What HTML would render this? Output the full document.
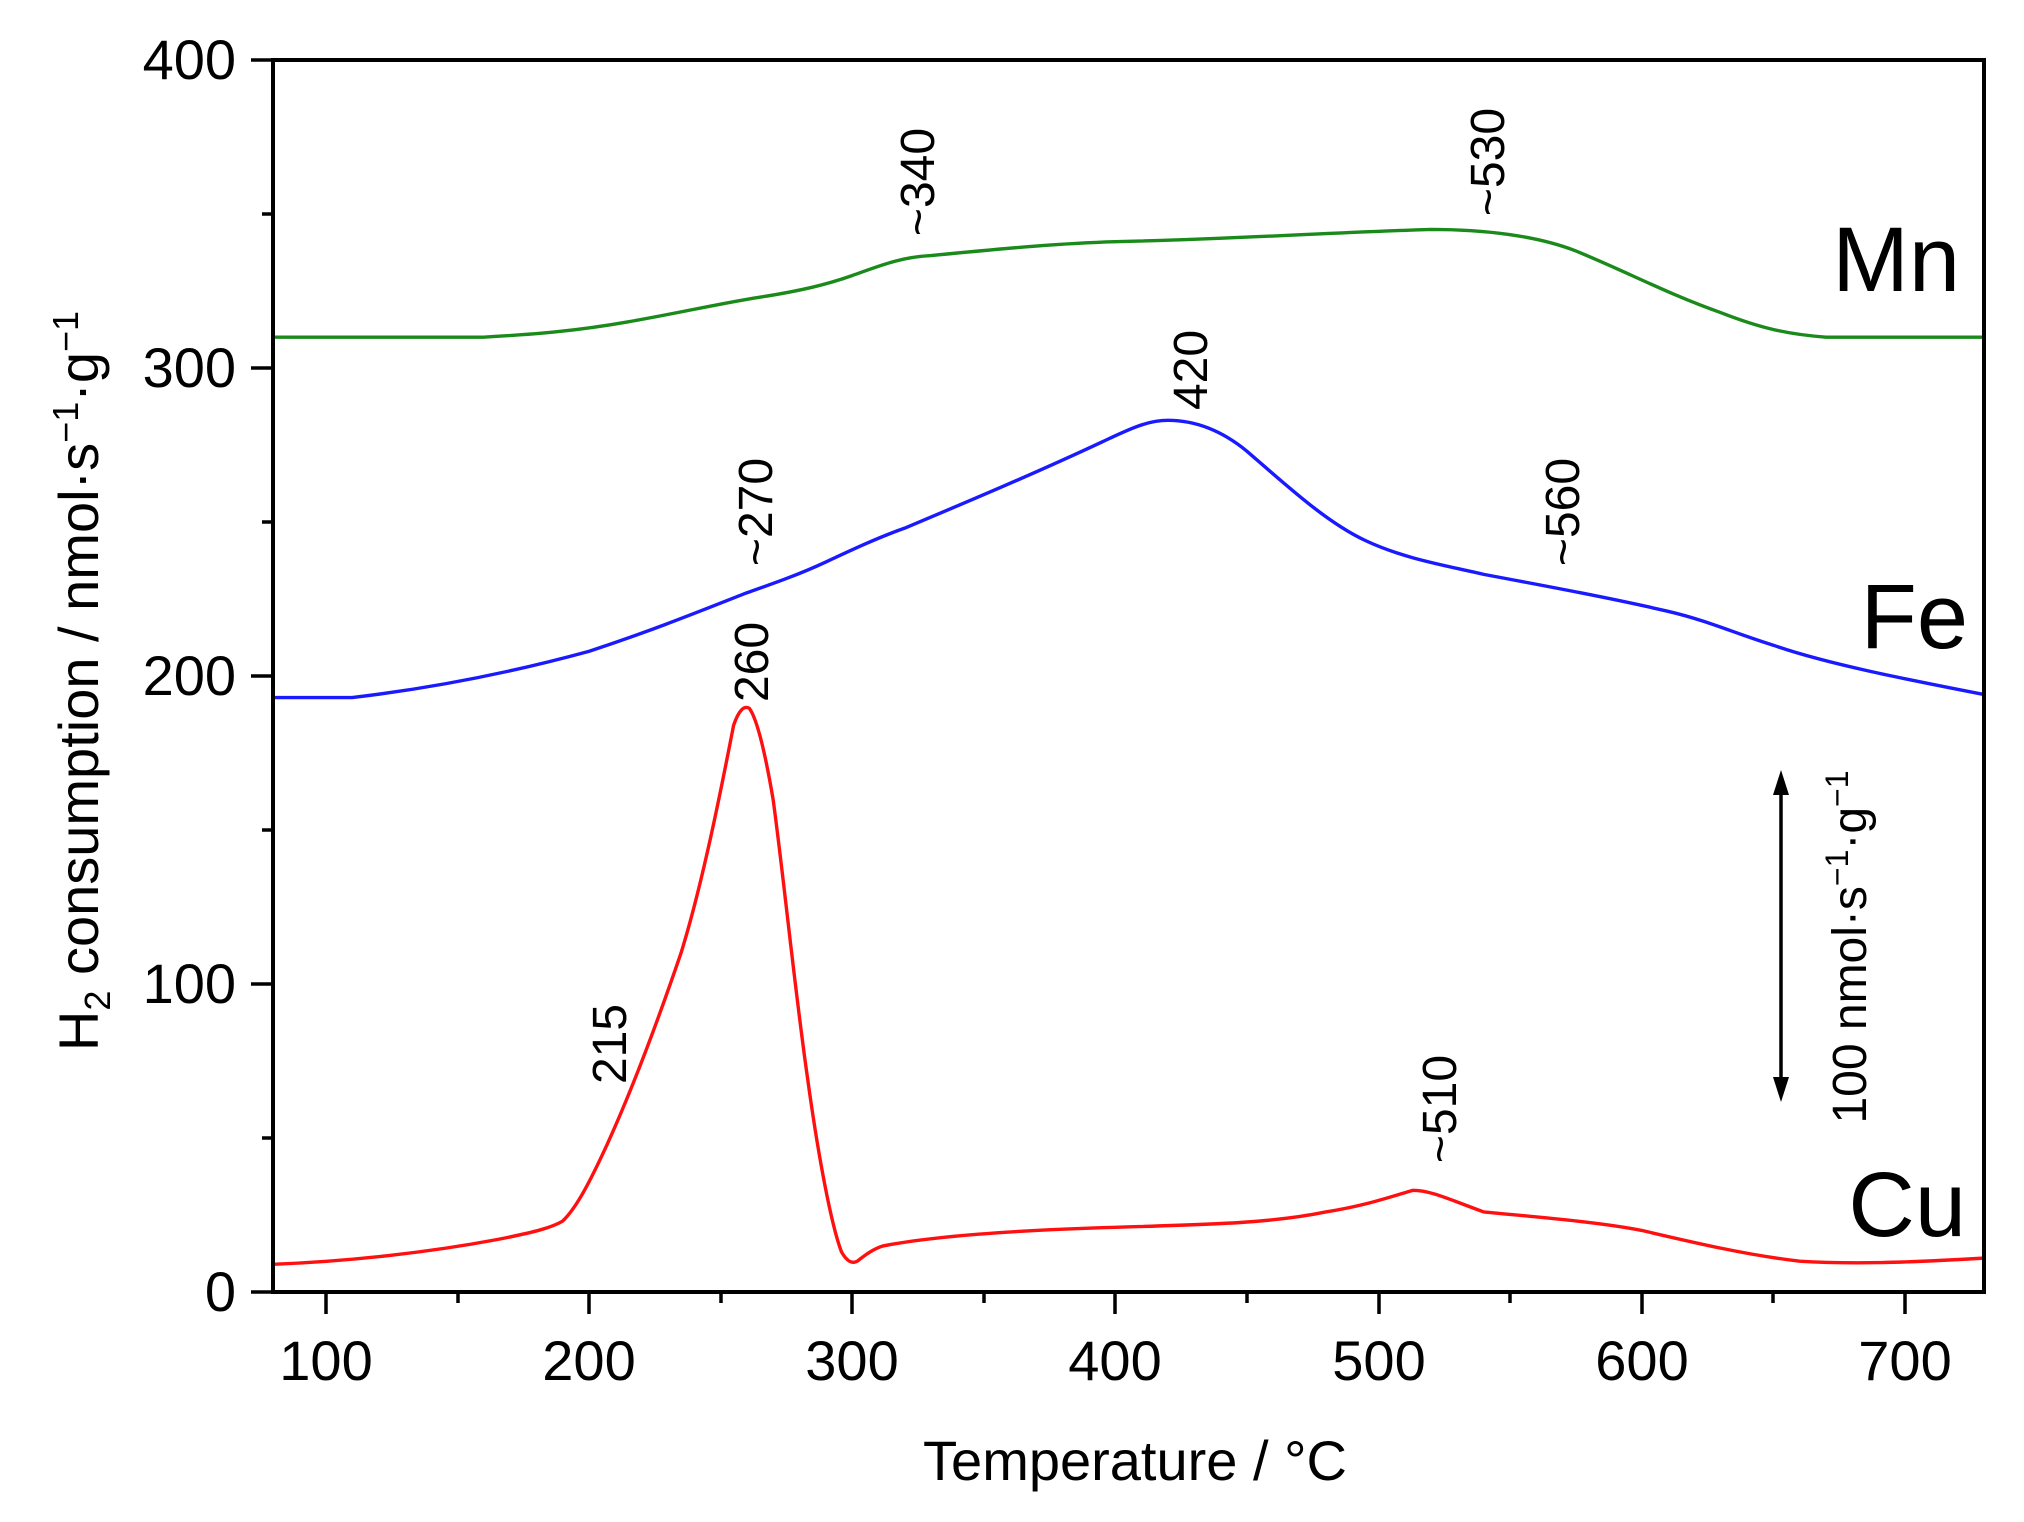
<!DOCTYPE html>
<html><head><meta charset="utf-8"><style>
html,body{margin:0;padding:0;background:#fff;}
svg text{font-family:"Liberation Sans",sans-serif;fill:#000;}
</style></head><body>
<svg width="2024" height="1517" viewBox="0 0 2024 1517" xmlns="http://www.w3.org/2000/svg">
<defs><clipPath id="c"><rect x="273" y="60" width="1711" height="1232"/></clipPath></defs>
<g clip-path="url(#c)">
<g transform="translate(62.44,1292) scale(2.632,-3.08)" fill="none" stroke-width="3.4" stroke-linejoin="round">
<path vector-effect="non-scaling-stroke" stroke="#1a8a1a" d="M80,310 L160,310 C180,311 195,312 215,315 C235,318 250,321 265,323 C280,325 290,327 300,330 C310,333 318,336 330,336.5 C360,339 380,340.5 400,341 C450,342 480,344 520,345 C540,345 560,343 575,338 C595,331 610,324 630,318 C645,313 655,311 670,310 L730,310"/>
<path vector-effect="non-scaling-stroke" stroke="#1a1aff" d="M80,193 L110,193 C140,196 170,201 200,208 C225,215 245,222 260,227 C270,230 280,233 290,237 C300,241 310,245 320,248 C345,257 370,266 395,276 C405,280 412,283 420,283 C430,283 440,280 450,273 C465,262 480,250 495,244 C510,238 525,236 540,233 C565,229 590,225 610,221 C625,218 635,214 650,210 C670,204 700,199 730,194"/>
<path vector-effect="non-scaling-stroke" stroke="#ff1010" d="M80,9 C110,10 140,13 165,17 C180,19.5 186,21 190,23 C195,27 200,35 207,48 C215,63 225,85 235,110 C243,132 250,162 255,184 C257,189 259,190.5 261,189.5 C264,186 267,175 270,160 C274,135 278,100 283,70 C287,45 292,22 296,13 C298,10 300,9 302,10 C305,12 308,14 312,15 C330,18 360,20 400,21 C440,22 460,22.5 480,26 C495,28 505,31 513,33 C520,33 527,30 540,26 C565,24 585,22.5 600,20 C620,16 640,12 660,10 C680,9 700,9.5 730,11"/>
</g></g>
<g stroke="#000" stroke-width="4" fill="none">
<rect x="273" y="60" width="1711" height="1232"/>
</g>
<g stroke="#000" stroke-width="3.5">
<line x1="251" y1="60" x2="273" y2="60"/><line x1="251" y1="368" x2="273" y2="368"/><line x1="251" y1="676" x2="273" y2="676"/><line x1="251" y1="984" x2="273" y2="984"/><line x1="251" y1="1292" x2="273" y2="1292"/>
<line x1="262" y1="214" x2="273" y2="214"/><line x1="262" y1="522" x2="273" y2="522"/><line x1="262" y1="830" x2="273" y2="830"/><line x1="262" y1="1138" x2="273" y2="1138"/>
<line x1="326" y1="1292" x2="326" y2="1314"/><line x1="589" y1="1292" x2="589" y2="1314"/><line x1="852" y1="1292" x2="852" y2="1314"/><line x1="1115" y1="1292" x2="1115" y2="1314"/><line x1="1379" y1="1292" x2="1379" y2="1314"/><line x1="1642" y1="1292" x2="1642" y2="1314"/><line x1="1905" y1="1292" x2="1905" y2="1314"/>
<line x1="458" y1="1292" x2="458" y2="1303"/><line x1="721" y1="1292" x2="721" y2="1303"/><line x1="984" y1="1292" x2="984" y2="1303"/><line x1="1247" y1="1292" x2="1247" y2="1303"/><line x1="1510" y1="1292" x2="1510" y2="1303"/><line x1="1773" y1="1292" x2="1773" y2="1303"/>
</g>
<g font-size="56" text-anchor="end">
<text x="236" y="79">400</text><text x="236" y="387">300</text><text x="236" y="695">200</text><text x="236" y="1003">100</text><text x="236" y="1311">0</text>
</g>
<g font-size="56" text-anchor="middle">
<text x="326" y="1380">100</text><text x="589" y="1380">200</text><text x="852" y="1380">300</text><text x="1115" y="1380">400</text><text x="1379" y="1380">500</text><text x="1642" y="1380">600</text><text x="1905" y="1380">700</text>
<text x="1135" y="1480">Temperature / °C</text>
<text transform="translate(98,681) rotate(-90)">H<tspan font-size="36" dy="12">2</tspan><tspan dy="-12"> consumption / nmol·s</tspan><tspan font-size="36" dy="-20">−1</tspan><tspan dy="20">·g</tspan><tspan font-size="36" dy="-20">−1</tspan></text>
</g>
<g font-size="48" text-anchor="middle">
<text transform="translate(934,182) rotate(-90)">~340</text>
<text transform="translate(1504,162) rotate(-90)">~530</text>
<text transform="translate(1207,370) rotate(-90)">420</text>
<text transform="translate(772,512) rotate(-90)">~270</text>
<text transform="translate(1579,512) rotate(-90)">~560</text>
<text transform="translate(768,662) rotate(-90)">260</text>
<text transform="translate(626,1044) rotate(-90)">215</text>
<text transform="translate(1456,1109) rotate(-90)">~510</text>
<text transform="translate(1866,947) rotate(-90)">100 nmol·s<tspan font-size="32" dy="-18">−1</tspan><tspan dy="18">·g</tspan><tspan font-size="32" dy="-18">−1</tspan></text>
</g>
<g font-size="92" text-anchor="end">
<text x="1960" y="291">Mn</text><text x="1968" y="648">Fe</text><text x="1966" y="1236">Cu</text>
</g>
<g stroke="#000" stroke-width="3.5"><line x1="1781" y1="785" x2="1781" y2="1088"/></g>
<polygon points="1781,770 1773,795 1789,795" fill="#000"/>
<polygon points="1781,1102 1773,1077 1789,1077" fill="#000"/>
</svg>
</body></html>
